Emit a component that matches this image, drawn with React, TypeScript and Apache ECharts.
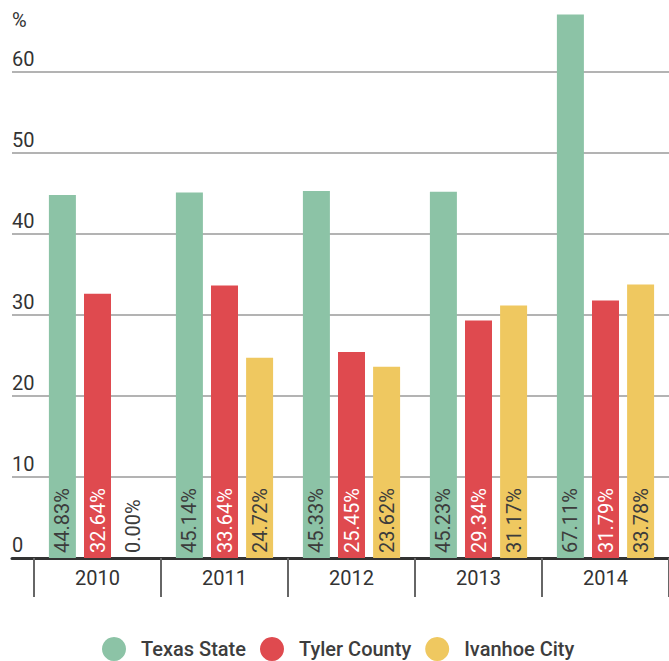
import React, { useEffect, useRef } from "react";
import * as echarts from "echarts";

const years = ["2010", "2011", "2012", "2013", "2014"];
const texasState = [44.83, 45.14, 45.33, 45.23, 67.11];
const tylerCounty = [32.64, 33.64, 25.45, 29.34, 31.79];
const ivanhoeCity = [0.0, 24.72, 23.62, 31.17, 33.78];
const seriesNames = ["Texas State", "Tyler County", "Ivanhoe City"];
const colors = ["#8cc3a6", "#df4a4f", "#efc860"];
const labelColors = ["#3c3c3c", "#ffffff", "#3c3c3c"];

const FONT = "Roboto, 'Noto Sans', sans-serif";
const Y_MAX = 68.9;

export default function App() {
  const ref = useRef<HTMLDivElement>(null);
  useEffect(() => {
    if (!ref.current) return;
    const chart = echarts.init(ref.current, null, { renderer: "svg" });
    const seriesData = [texasState, tylerCounty, ivanhoeCity];
    chart.setOption({
      animation: false,
      textStyle: { fontFamily: FONT },
      legend: {
        left: 97,
        top: 632,
        itemWidth: 24,
        itemHeight: 24,
        itemGap: 14,
        icon: "circle",
        data: seriesNames,
        textStyle: {
          fontFamily: FONT,
          fontSize: 20,
          lineHeight: 20,
          fontWeight: 500,
          color: "#3d3d3d",
          padding: [0, 0, 0, 10],
        },
      },
      graphic: [
        {
          type: "text",
          left: 12,
          top: 10,
          style: { text: "%", fontFamily: FONT, fontSize: 20, fill: "#333" },
        },
      ],
      grid: [
        { left: 12, right: 0, top: 0, bottom: 103 },
        { left: 34, right: -6, top: 0, bottom: 103 },
      ],
      xAxis: [
        {
          gridIndex: 0,
          type: "value",
          min: 0,
          max: 1,
          axisLine: { show: true, onZero: false, lineStyle: { color: "#333", width: 3 } },
          axisTick: { show: false },
          axisLabel: { show: false },
          splitLine: { show: false },
        },
        {
          gridIndex: 1,
          type: "category",
          data: years,
          axisLine: { show: false },
          axisTick: { show: true, length: 39, lineStyle: { color: "#666", width: 2 } },
          axisLabel: { fontFamily: FONT, fontSize: 20, color: "#333", margin: 10 },
        },
      ],
      yAxis: [
        {
          gridIndex: 0,
          type: "value",
          min: 0,
          max: Y_MAX,
          interval: 10,
          axisLine: { show: false },
          axisTick: { show: false },
          splitLine: {
            show: true,
            showMaxLine: false,
            lineStyle: { color: "#b3b3b3", width: 2 },
          },
          axisLabel: {
            inside: true,
            margin: 0,
            verticalAlign: "bottom",
            padding: [0, 0, 3, 0],
            fontFamily: FONT,
            fontSize: 20,
            color: "#333",
            showMaxLabel: false,
          },
          z: 0,
        },
        {
          gridIndex: 1,
          type: "value",
          min: 0,
          max: Y_MAX,
          interval: 10,
          show: false,
          splitLine: { show: false },
        },
      ],
      series: seriesNames.map((name, i) => ({
        name,
        type: "bar",
        xAxisIndex: 1,
        yAxisIndex: 1,
        data: seriesData[i],
        barWidth: 27,
        barGap: "30%",
        itemStyle: { color: colors[i] },
        label: {
          show: true,
          position: "insideBottom",
          distance: 5,
          rotate: 90,
          align: "left",
          verticalAlign: "middle",
          fontFamily: FONT,
          fontSize: 20,
          color: labelColors[i],
          formatter: (p: any) => Number(p.value).toFixed(2) + "%",
        },
        z: 3,
      })),
    });
    return () => chart.dispose();
  }, []);
  return (
    <div
      ref={ref}
      style={{ position: "fixed", left: 0, top: 0, width: 669, height: 661, background: "#fff" }}
    />
  );
}
